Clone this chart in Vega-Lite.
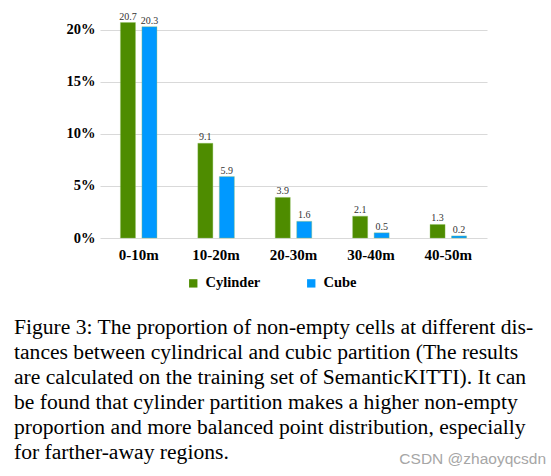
{
  "$schema": "https://vega.github.io/schema/vega-lite/v6.json",
  "autosize": {"type": "none"},
  "padding": {"left": 100, "top": 9, "right": 64, "bottom": 238},
  "width": 387,
  "height": 229,
  "background": "white",
  "config": {"view": {"stroke": null}},
  "title": {
    "text": [
      "Figure 3: The proportion of non-empty cells at different dis-",
      "tances between cylindrical and cubic partition (The results",
      "are calculated on the training set of SemanticKITTI). It can",
      "be found that cylinder partition makes a higher non-empty",
      "proportion and more balanced point distribution, especially",
      "for farther-away regions."
    ],
    "orient": "bottom",
    "anchor": "start",
    "frame": "group",
    "dx": -86,
    "offset": -151,
    "font": "Liberation Serif",
    "fontSize": 21.6,
    "fontWeight": "normal",
    "color": "#000000",
    "lineHeight": 25
  },
  "data": {
    "values": [
      {"range": "0-10m", "partition": "Cylinder", "pct": 20.7},
      {"range": "0-10m", "partition": "Cube", "pct": 20.3},
      {"range": "10-20m", "partition": "Cylinder", "pct": 9.1},
      {"range": "10-20m", "partition": "Cube", "pct": 5.9},
      {"range": "20-30m", "partition": "Cylinder", "pct": 3.9},
      {"range": "20-30m", "partition": "Cube", "pct": 1.6},
      {"range": "30-40m", "partition": "Cylinder", "pct": 2.1},
      {"range": "30-40m", "partition": "Cube", "pct": 0.5},
      {"range": "40-50m", "partition": "Cylinder", "pct": 1.3},
      {"range": "40-50m", "partition": "Cube", "pct": 0.2}
    ]
  },
  "encoding": {
    "x": {
      "field": "range",
      "type": "nominal",
      "sort": ["0-10m", "10-20m", "20-30m", "30-40m", "40-50m"],
      "scale": {"paddingInner": 0.528, "paddingOuter": 0.264},
      "axis": {
        "title": null,
        "labelAngle": 0,
        "ticks": false,
        "domain": false,
        "labelFont": "Liberation Serif",
        "labelFontWeight": "bold",
        "labelFontSize": 15,
        "labelColor": "#000000",
        "labelPadding": 9
      }
    },
    "xOffset": {
      "field": "partition",
      "type": "nominal",
      "sort": ["Cylinder", "Cube"],
      "scale": {"paddingInner": 0.3, "paddingOuter": 0}
    }
  },
  "layer": [
    {
      "mark": {"type": "bar", "stroke": "#8fc060", "strokeWidth": 0.6, "strokeOpacity": 0.6},
      "encoding": {
        "y": {
          "field": "pct",
          "type": "quantitative",
          "scale": {"domain": [0, 22], "nice": false},
          "axis": {
            "title": null,
            "values": [0, 5, 10, 15, 20],
            "labelExpr": "datum.value + '%'",
            "ticks": false,
            "domain": false,
            "grid": true,
            "gridColor": "#d9d9d9",
            "gridWidth": 1,
            "labelFont": "Liberation Serif",
            "labelFontWeight": "bold",
            "labelFontSize": 14.5,
            "labelColor": "#000000",
            "labelPadding": 5
          }
        },
        "color": {
          "field": "partition",
          "type": "nominal",
          "sort": ["Cylinder", "Cube"],
          "scale": {"domain": ["Cylinder", "Cube"], "range": ["#4e8c00", "#0099ff"]},
          "legend": {
            "title": null,
            "orient": "none",
            "direction": "horizontal",
            "legendX": 86,
            "legendY": 267,
            "symbolType": "square",
            "symbolSize": 70,
            "symbolStrokeWidth": 0,
            "labelFont": "Liberation Serif",
            "labelFontWeight": "bold",
            "labelFontSize": 14.5,
            "labelColor": "#000000",
            "columnPadding": 43,
            "labelOffset": 5
          }
        }
      }
    },
    {
      "mark": {"type": "text", "baseline": "bottom", "dy": -1, "font": "Liberation Serif", "fontSize": 10, "color": "#333333"},
      "encoding": {
        "y": {"field": "pct", "type": "quantitative"},
        "text": {"field": "pct", "type": "quantitative", "format": ".1f"}
      }
    },
    {
      "data": {"values": [{"mark": "CSDN @zhaoyqcsdn"}]},
      "mark": {"type": "text", "align": "right", "baseline": "middle", "dx": 116, "font": "Liberation Sans", "fontSize": 15.5, "color": "#a6a6a6"},
      "encoding": {
        "x": {"datum": "40-50m"},
        "xOffset": {"value": 0},
        "y": {"datum": -21.25},
        "text": {"field": "mark", "type": "nominal"}
      }
    }
  ]
}
